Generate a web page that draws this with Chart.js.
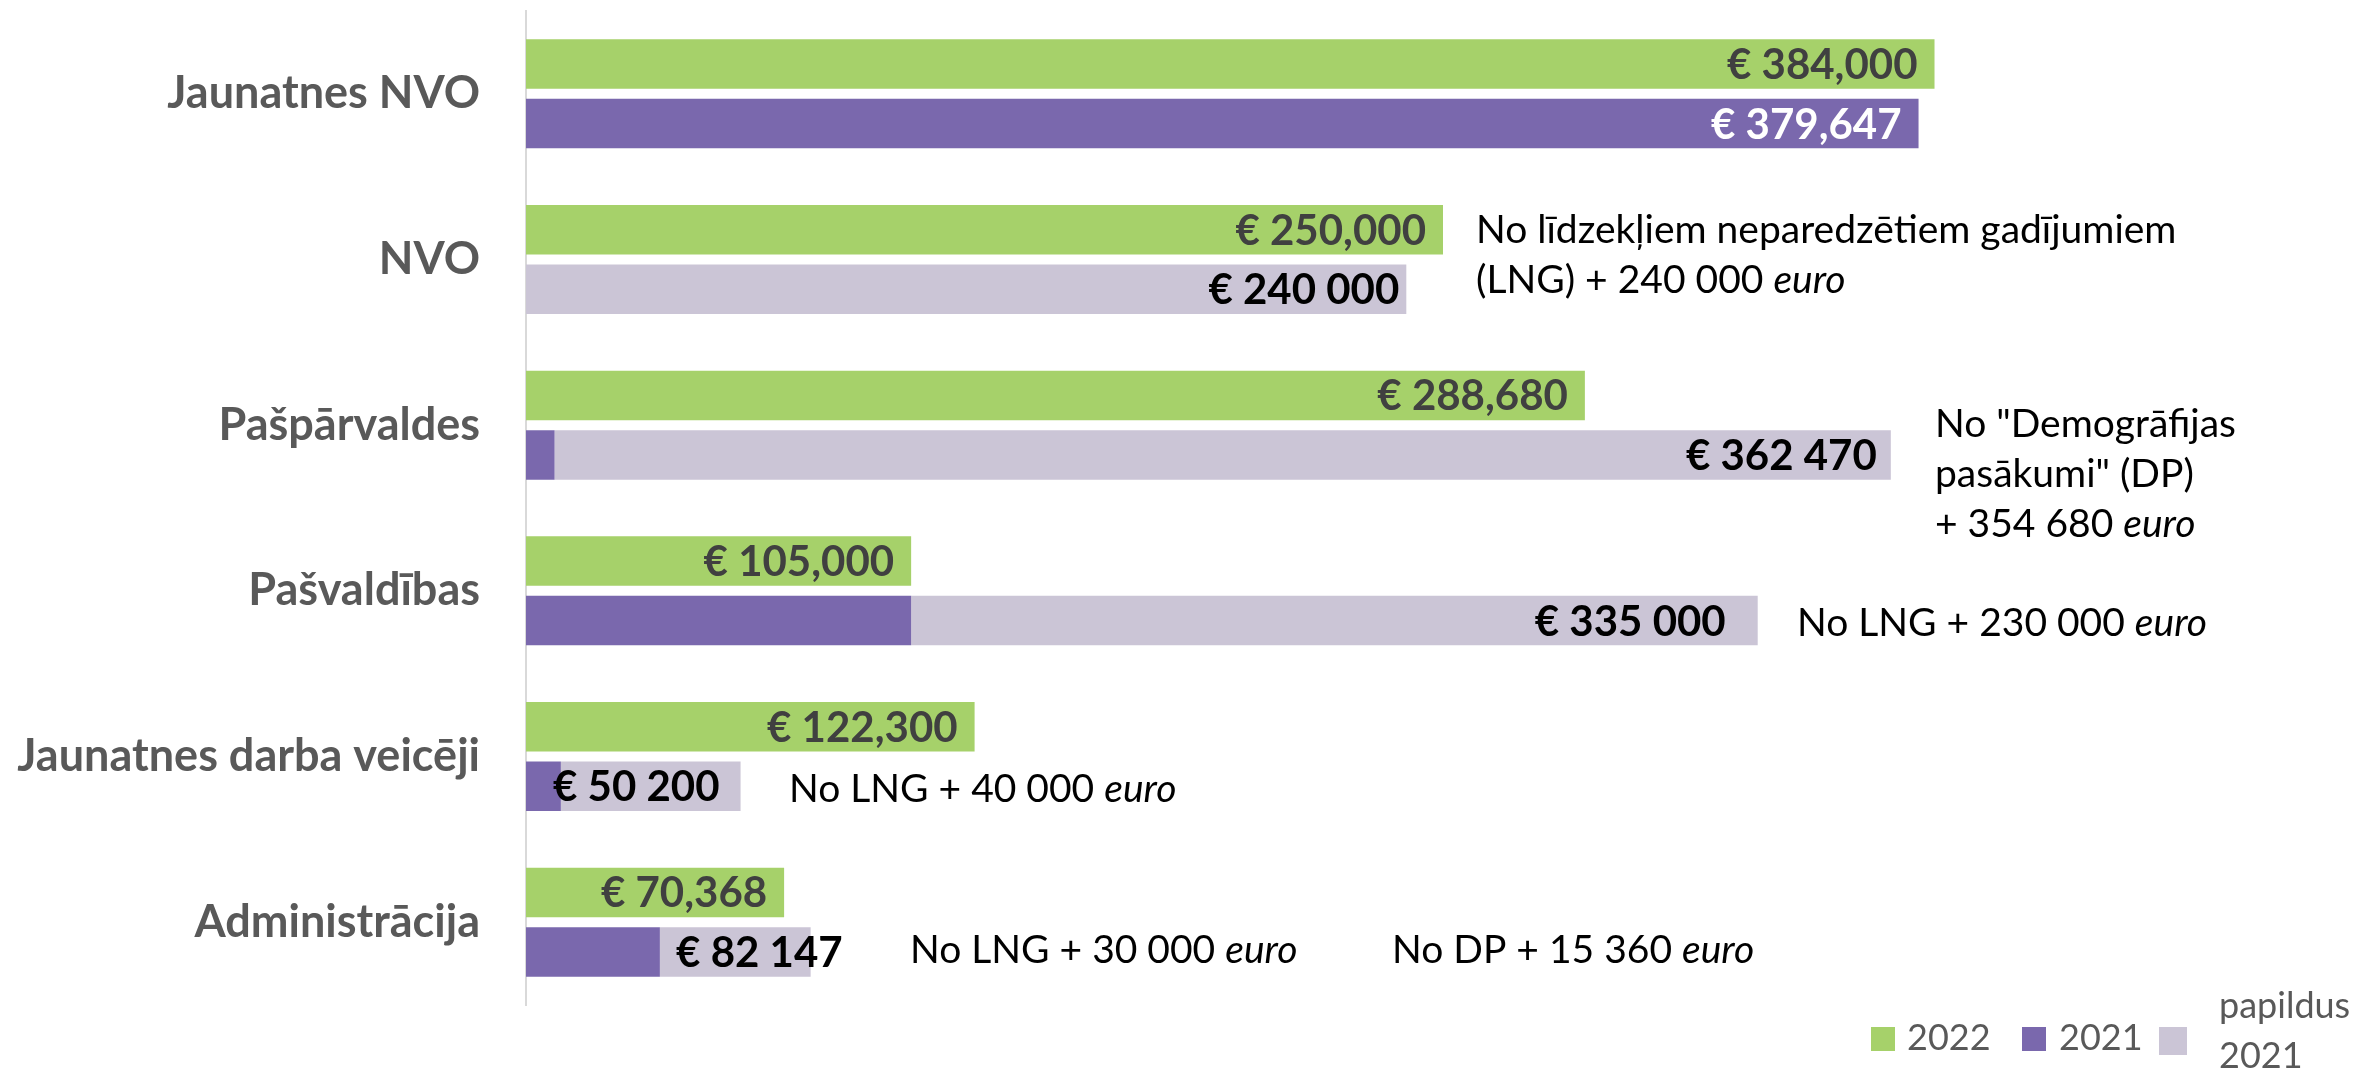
<!DOCTYPE html>
<html>
<head>
<meta charset="utf-8">
<script src="https://cdn.jsdelivr.net/npm/chart.js@4/dist/chart.umd.min.js"></script>
<style>
html,body{margin:0;background:#fff}
#wrap{width:2371px;height:1071px;position:relative}
</style>
</head>
<body>
<div id="wrap"><canvas id="c"></canvas></div>
<script>
// categories and values
const categories=['Jaunatnes NVO','NVO','Pašpārvaldes','Pašvaldības','Jaunatnes darba veicēji','Administrācija'];
const seriesNames=['2022','2021','papildus 2021'];
const v2022=[384000,250000,288680,105000,122300,70368];
const v2021=[379647,0,7790,105000,9500,36500];
const vExtra=[0,240000,364300,230800,49000,41100];
const totals2021=['€ 379,647','€ 240 000','€ 362 470','€ 335 000','€ 50 200','€ 82 147'];
// side notes: [plain part, italic part] per line
const notes=[
 {cat:1, lines:[['No līdzekļiem neparedzētiem gadījumiem',''],['(LNG) + 240 000 ','euro']]},
 {cat:2, lines:[['No "Demogrāfijas',''],['pasākumi" (DP)',''],['+ 354 680 ','euro']]},
 {cat:3, lines:[['No LNG + 230 000 ','euro']]},
 {cat:4, lines:[['No LNG + 40 000 ','euro']]},
 {cat:5, lines:[['No LNG + 30 000 ','euro']]},
 {cat:5, lines:[['No DP + 15 360 ','euro']]}
];
// layout only: where the notes sit, and hand-nudged total labels (px)
const noteLayout=[{x:1476,dy:-17},{x:1935,dy:12},{x:1797,dy:45},{x:789,dy:45},{x:910,dy:41},{x:1392,dy:41}];
const totalShift=[0,7,0,-18,-7,46];

const colors=['#A6D16A','#7A68AD','#CBC5D6'];
const FONT='Lato';

const valuePlugin={id:'vals',afterDatasetsDraw(ch){
 const ctx=ch.ctx;
 const m0=ch.getDatasetMeta(0), m1=ch.getDatasetMeta(1), m2=ch.getDatasetMeta(2);
 ctx.save();
 ctx.textAlign='right'; ctx.textBaseline='alphabetic';
 ctx.font='bold 42px '+FONT;
 m0.data.forEach((b,i)=>{
  ctx.fillStyle='#404040';
  ctx.fillText('€ '+v2022[i].toLocaleString('en-US'), b.x-17, b.y+15);
 });
 m1.data.forEach((b,i)=>{
  const extra=vExtra[i]>0;
  const el=extra?m2.data[i]:b;
  ctx.fillStyle=extra?'#000':'#fff';
  ctx.fillText(totals2021[i], el.x-(extra?14:17)+totalShift[i], el.y+15);
 });
 ctx.restore();
}};

const notePlugin={id:'notes',afterDraw(ch){
 const ctx=ch.ctx, ys=ch.scales.y;
 ctx.save();
 ctx.fillStyle='#000'; ctx.textAlign='left'; ctx.textBaseline='alphabetic';
 notes.forEach((n,k)=>{
  const L=noteLayout[k], cy=ys.getPixelForValue(n.cat);
  n.lines.forEach((ln,j)=>{
   let x=L.x; const y=cy+L.dy+j*50;
   ctx.font='39px '+FONT; ctx.fillText(ln[0],x,y);
   x+=ctx.measureText(ln[0]).width;
   if(ln[1]){ctx.font='italic 39px '+FONT; ctx.fillText(ln[1],x,y);}
  });
 });
 // legend
 const lg=[{sq:1871,tx:1907},{sq:2022,tx:2059},{sq:2159,tx:2219}];
 ctx.font='36px '+FONT;
 ch.data.datasets.forEach((d,i)=>{
  ctx.fillStyle=d.backgroundColor;
  ctx.fillRect(lg[i].sq,1027,i==2?28:24,i==2?28:24);
  ctx.fillStyle='#595959';
  const parts=d.label.split(' ');
  if(parts.length>1){
   ctx.fillText(parts[0],lg[i].tx,1018);
   ctx.fillText(parts[1],lg[i].tx,1068);
  }else ctx.fillText(d.label,lg[i].tx,1050);
 });
 ctx.restore();
}};

new Chart(document.getElementById('c'),{
 type:'bar',
 data:{labels:categories,datasets:[
  {label:seriesNames[0],data:v2022,backgroundColor:colors[0],stack:'a'},
  {label:seriesNames[1],data:v2021,backgroundColor:colors[1],stack:'b'},
  {label:seriesNames[2],data:vExtra,backgroundColor:colors[2],stack:'b'}
 ]},
 options:{
  indexAxis:'y',
  responsive:true, maintainAspectRatio:false, animation:false, devicePixelRatio:1,
  categoryPercentage:0.718, barPercentage:0.832,
  layout:{padding:{left:0,top:11,right:11,bottom:66}},
  plugins:{legend:{display:false},tooltip:{enabled:false}},
  scales:{
   x:{stacked:true,min:0,max:500000,display:false},
   y:{stacked:true,
      grid:{display:false,drawTicks:false},
      border:{display:true,color:'#D9D9D9',width:2},
      ticks:{font:{family:FONT,size:45,weight:'bold'},color:'#595959',padding:46},
      afterFit(s){s.width=526; s.paddingTop=0; s.paddingBottom=0;}
   }
  }
 },
 plugins:[valuePlugin,notePlugin]
});
</script>
</body>
</html>
